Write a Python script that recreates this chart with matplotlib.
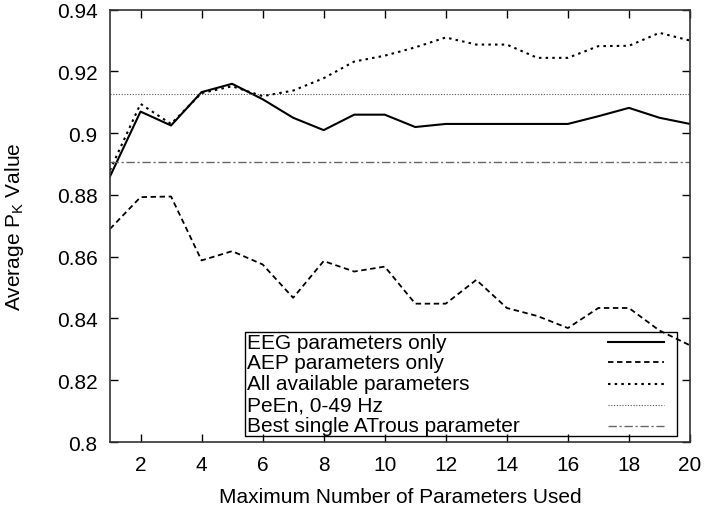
import matplotlib
matplotlib.use("Agg")
import matplotlib.pyplot as plt
from matplotlib.patches import Rectangle
import numpy as np

plt.rcParams['font.family'] = ['Liberation Sans', 'DejaVu Sans']
plt.rcParams['mathtext.fontset'] = 'custom'
plt.rcParams['mathtext.rm'] = 'Liberation Sans'

n_params = list(range(1, 21))
eeg_only = [0.886, 0.907, 0.9025, 0.9133, 0.916, 0.911, 0.905, 0.901, 0.906, 0.906,
            0.902, 0.903, 0.903, 0.903, 0.903, 0.903, 0.9055, 0.9082, 0.905, 0.903]
aep_only = [0.869, 0.8793, 0.8795, 0.8588, 0.8618, 0.8575, 0.8467, 0.8586, 0.8552, 0.8568,
            0.8448, 0.8448, 0.8525, 0.8434, 0.8408, 0.8369, 0.8434, 0.8434, 0.8361, 0.8313]
all_params = [0.888, 0.9095, 0.903, 0.913, 0.9152, 0.912, 0.9138, 0.9178, 0.9232, 0.9251,
              0.9278, 0.931, 0.9287, 0.9287, 0.9244, 0.9244, 0.9282, 0.9283, 0.9325, 0.930]
peen_level = 0.9126
atrous_level = 0.8908

fig = plt.figure(figsize=(7.06, 5.06), dpi=100)
ax = fig.add_axes([0.1558, 0.1245, 0.8215, 0.8544])

styles = [
    dict(color='black', lw=1.5, ls='-'),
    dict(color='black', lw=1.3, ls=(0, (3, 2))),
    dict(color='black', lw=1.5, ls=(0, (1.2, 2))),
    dict(color='#555555', lw=0.8, ls=(0, (1, 1.5))),
    dict(color='#666666', lw=1.0, ls=(0, (6, 2, 1.5, 2))),
]
labels = ['EEG parameters only', 'AEP parameters only', 'All available parameters',
          'PeEn, 0-49 Hz', 'Best single ATrous parameter']

ax.plot(n_params, eeg_only, **styles[0])
ax.plot(n_params, aep_only, **styles[1])
ax.plot(n_params, all_params, **styles[2])
ax.axhline(peen_level, **styles[3])
ax.axhline(atrous_level, **styles[4])

ax.set_xlim(1, 20)
ax.set_ylim(0.8, 0.94)
ax.set_xticks(range(2, 21, 2))
ax.set_yticks(np.arange(0.8, 0.9401, 0.02))
ax.set_yticklabels(['0.8', '0.82', '0.84', '0.86', '0.88', '0.9', '0.92', '0.94'])
ax.tick_params(direction='in', top=True, right=True, length=6, width=1, labelsize=15)
ax.tick_params(axis='x', pad=9)
ax.tick_params(axis='y', pad=9)
for s in ax.spines.values():
    s.set_linewidth(1.2)
    s.set_color('#333333')

ax.set_xlabel('Maximum Number of Parameters Used', fontsize=15, labelpad=10)
ax.set_ylabel(r'Average P$_\mathregular{K}$ Value', fontsize=15, labelpad=22)

# gnuplot-style key: text on the left, sample line on the right
ax.add_patch(Rectangle((0.2328, 0.0139), 0.7448, 0.2399, transform=ax.transAxes,
                       fill=False, edgecolor='black', lw=1.0, zorder=1))
row_y = [0.2306, 0.1844, 0.1342, 0.0856, 0.0377]
for lab, st, yy in zip(labels, styles, row_y):
    ax.text(0.236, yy, lab, transform=ax.transAxes, fontsize=15, va='center', ha='left')
    ax.plot([0.8586, 0.955], [yy, yy], transform=ax.transAxes, **st)

fig.savefig('out.png', dpi=100)
